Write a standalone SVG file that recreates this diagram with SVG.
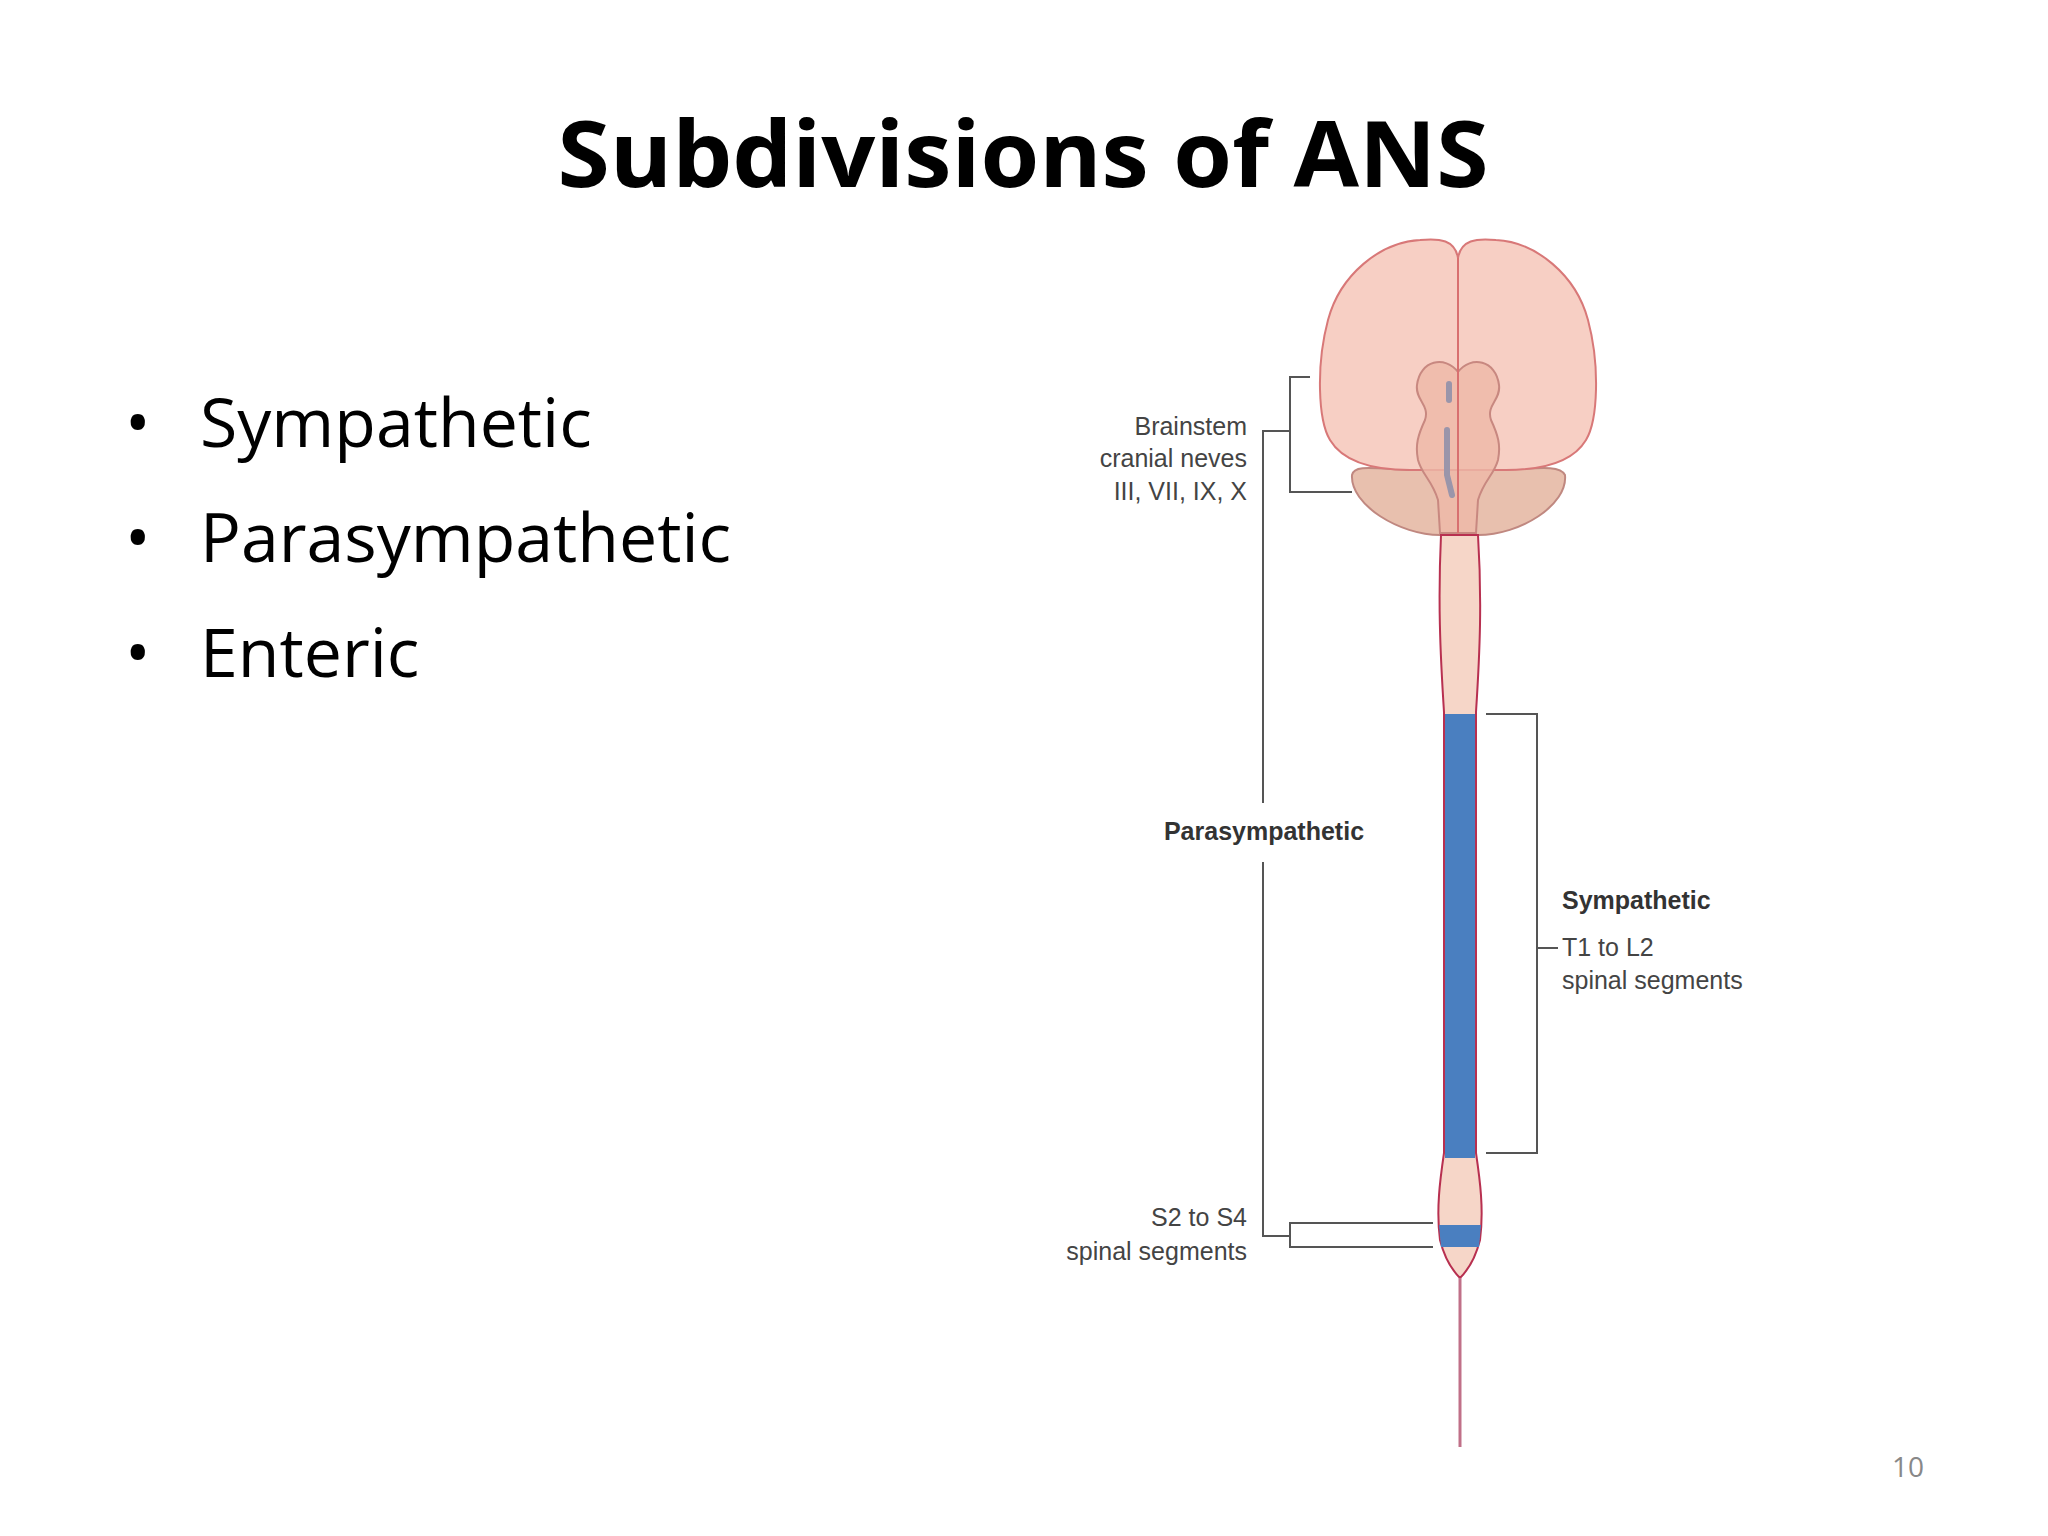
<svg xmlns="http://www.w3.org/2000/svg" width="2048" height="1536" viewBox="0 0 2048 1536">
<style>
.lbl{font-family:"Liberation Sans",Arial,sans-serif;font-size:25px;fill:#444}
.b{font-weight:bold;fill:#333}
.br{fill:none;stroke:#555;stroke-width:2}
.bul{font-family:"Open Sans","Liberation Sans",sans-serif;font-size:68px;fill:#000}
</style>
<rect width="2048" height="1536" fill="#fff"/>
<text x="1023" y="187" text-anchor="middle" font-family="'Open Sans','Liberation Sans',sans-serif" font-weight="bold" font-size="92" textLength="931" lengthAdjust="spacingAndGlyphs">Subdivisions of ANS</text>
<g id="bullets">
<text class="bul" x="125" y="447">•</text><text class="bul" x="200" y="447">Sympathetic</text>
<text class="bul" x="125" y="562">•</text><text class="bul" x="200" y="562">Parasympathetic</text>
<text class="bul" x="125" y="677">•</text><text class="bul" x="200" y="677">Enteric</text>
</g>
<g id="brain">
<path d="M1352 475 C1350 505 1400 535 1440 535 L1478 535 C1520 535 1568 505 1565 475 C1560 465 1540 468 1500 470 L1410 470 C1370 468 1354 465 1352 475Z" fill="#e8c0ae" stroke="#c08880" stroke-width="2"/>
<path d="M1458 258 C1455 240 1440 238 1420 240 C1380 242 1340 275 1328 320 C1316 365 1318 420 1330 440 C1345 465 1380 470 1410 470 L1458 470Z" fill="#f7cfc4" stroke="#d87878" stroke-width="2"/>
<path d="M1458 258 C1461 240 1476 238 1496 240 C1536 242 1576 275 1588 320 C1600 365 1598 420 1586 440 C1571 465 1536 470 1506 470 L1458 470Z" fill="#f7cfc4" stroke="#d87878" stroke-width="2"/>
<path d="M1458 372 C1445 355 1420 360 1417 385 C1415 400 1430 405 1425 420 C1418 435 1415 445 1418 460 C1422 475 1432 480 1438 500 L1440 533 L1476 533 L1478 500 C1484 480 1494 475 1498 460 C1501 445 1498 435 1491 420 C1486 405 1501 400 1499 385 C1496 360 1471 355 1458 372Z" fill="#eeb8a8" fill-opacity="0.8" stroke="#c88880" stroke-width="2"/>
<line x1="1458" y1="258" x2="1458" y2="533" stroke="#d87070" stroke-width="2"/>
<line x1="1449" y1="384" x2="1449" y2="400" stroke="#9a95aa" stroke-width="6" stroke-linecap="round"/>
<path d="M1447 430 L1447 475 L1452 495" fill="none" stroke="#9a95aa" stroke-width="6" stroke-linecap="round"/>
</g>
<g id="cord">
<path d="M1441 535 C1438 600 1440 650 1444 712 L1444 1153 C1440 1180 1436 1210 1440 1240 C1445 1260 1452 1270 1460 1278 C1468 1270 1475 1260 1480 1240 C1484 1210 1480 1180 1476 1153 L1476 712 C1480 650 1482 600 1478 535Z" fill="#f6d6c8" stroke="#b83050" stroke-width="2"/>
<rect x="1445" y="714" width="30" height="444" fill="#4a7fc0"/>
<path d="M1439 1225 L1481 1225 L1479 1247 L1441 1247Z" fill="#4a7fc0"/>
<line x1="1460" y1="1278" x2="1460" y2="1447" stroke="#c07088" stroke-width="3"/>
</g>
<g id="connectors">
<path class="br" d="M1310 377 H1290 V492 H1352 M1290 431 H1263 V803 M1263 862 V1236 H1290 M1433 1223 H1290 V1247 H1433"/>
<path class="br" d="M1486 714 H1537 V1153 H1486 M1537 948 H1558"/>
</g>
<g id="labels">
<text class="lbl" x="1247" y="435" text-anchor="end">Brainstem</text>
<text class="lbl" x="1247" y="467" text-anchor="end">cranial neves</text>
<text class="lbl" x="1247" y="500" text-anchor="end">III, VII, IX, X</text>
<text class="lbl b" x="1264" y="840" text-anchor="middle">Parasympathetic</text>
<text class="lbl" x="1247" y="1226" text-anchor="end">S2 to S4</text>
<text class="lbl" x="1247" y="1260" text-anchor="end">spinal segments</text>
<text class="lbl b" x="1562" y="909">Sympathetic</text>
<text class="lbl" x="1562" y="956">T1 to L2</text>
<text class="lbl" x="1562" y="989">spinal segments</text>
</g>
<text x="1908" y="1477" text-anchor="middle" font-family="'Open Sans','Liberation Sans',sans-serif" font-size="28" fill="#888">10</text>
</svg>
